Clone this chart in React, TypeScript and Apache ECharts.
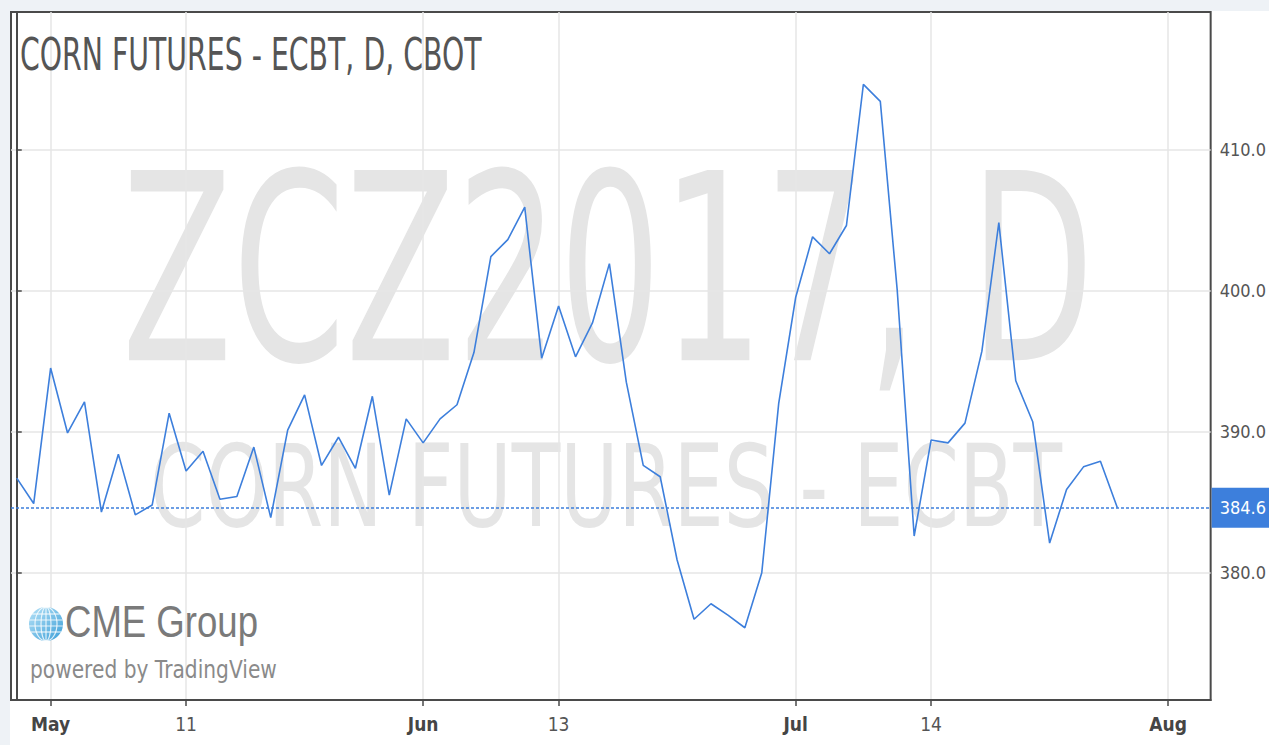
import React, { useEffect, useRef } from "react";
import * as echarts from "echarts";

// Trading days shown (Apr 27 – Jul 31, 2017)
const dates = [
  "2017-04-27", "2017-04-28",
  "2017-05-01", "2017-05-02", "2017-05-03", "2017-05-04", "2017-05-05",
  "2017-05-08", "2017-05-09", "2017-05-10", "2017-05-11", "2017-05-12",
  "2017-05-15", "2017-05-16", "2017-05-17", "2017-05-18", "2017-05-19",
  "2017-05-22", "2017-05-23", "2017-05-24", "2017-05-25", "2017-05-26",
  "2017-05-30", "2017-05-31",
  "2017-06-01", "2017-06-02",
  "2017-06-05", "2017-06-06", "2017-06-07", "2017-06-08", "2017-06-09",
  "2017-06-12", "2017-06-13", "2017-06-14", "2017-06-15", "2017-06-16",
  "2017-06-19", "2017-06-20", "2017-06-21", "2017-06-22", "2017-06-23",
  "2017-06-26", "2017-06-27", "2017-06-28", "2017-06-29", "2017-06-30",
  "2017-07-03", "2017-07-05", "2017-07-06", "2017-07-07",
  "2017-07-10", "2017-07-11", "2017-07-12", "2017-07-13", "2017-07-14",
  "2017-07-17", "2017-07-18", "2017-07-19", "2017-07-20", "2017-07-21",
  "2017-07-24", "2017-07-25", "2017-07-26", "2017-07-27", "2017-07-28",
  "2017-07-31",
];

// Daily closes (cents/bushel)
const closes = [
  386.7, 384.9,
  394.5, 389.9, 392.1, 384.3, 388.4,
  384.1, 384.8, 391.3, 387.2, 388.6,
  385.2, 385.4, 388.9, 383.9, 390.1,
  392.6, 387.6, 389.6, 387.4, 392.5,
  385.5, 390.9,
  389.2, 390.9,
  391.9, 395.6, 402.4, 403.6, 405.9,
  395.2, 398.9, 395.3, 397.7, 401.9,
  393.5, 387.6, 386.8, 380.9, 376.7,
  377.8, 377.0, 376.1, 380.0, 392.0,
  399.5, 403.8, 402.6, 404.6,
  414.6, 413.4, 400.0, 382.6, 389.4,
  389.2, 390.6, 395.7, 404.8, 393.6,
  390.7, 382.1, 385.9, 387.5, 387.9,
  384.6,
];

// Time-axis ticks (bar slots) and their labels
const xTickBars = [2, 10, 24, 32, 46, 54, 68];
const xTickLabels = ["May", "11", "Jun", "13", "Jul", "14", "Aug"];
const monthLabels = ["May", "Jun", "Jul", "Aug"];
const yTicks = [380, 390, 400, 410];

const titleText = "CORN FUTURES - ECBT, D, CBOT";
const watermarkSymbol = "ZCZ2017, D";
const watermarkName = "CORN FUTURES - ECBT";
const logoText = "CME Group";
const poweredText = "powered by TradingView";

const lastPrice = closes[closes.length - 1];

const FONT = "'DejaVu Sans Condensed', 'DejaVu Sans', sans-serif";
const WFONT = "'DejaVu Sans', sans-serif";

function measure(text: string, size: number, family: string, weight = "normal") {
  const ctx = document.createElement("canvas").getContext("2d")!;
  ctx.font = `${weight} ${size}px ${family}`;
  return ctx.measureText(text).width;
}

export default function App() {
  const ref = useRef<HTMLDivElement>(null);

  useEffect(() => {
    if (!ref.current) return;
    const chart = echarts.init(ref.current, undefined, { renderer: "svg" });

    const fitScale = (text: string, size: number, family: string, target: number, weight = "normal") =>
      target / measure(text, size, family, weight);

    const globeLines: any[] = [];
    const gx = 46, gy = 624, gr = 17;
    [-10, -4, 2, 8].forEach((dy) => {
      const hw = Math.sqrt(gr * gr - dy * dy);
      globeLines.push({
        type: "line",
        shape: { x1: gx - hw, y1: gy + dy, x2: gx + hw, y2: gy + dy },
        style: { stroke: "#ffffff", lineWidth: 1.2, opacity: 0.8 },
        z: 3,
      });
    });
    [5, 11].forEach((rx) => {
      globeLines.push({
        type: "ellipse",
        shape: { cx: gx, cy: gy, rx, ry: gr },
        style: { stroke: "#ffffff", fill: "none", lineWidth: 1.2, opacity: 0.8 },
        z: 3,
      });
    });
    globeLines.push({
      type: "line",
      shape: { x1: gx, y1: gy - gr, x2: gx, y2: gy + gr },
      style: { stroke: "#ffffff", lineWidth: 1.2, opacity: 0.8 },
      z: 3,
    });

    const option: any = {
      animation: false,
      backgroundColor: "#ffffff",
      grid: {
        left: 11,
        right: 57,
        top: 12,
        bottom: 45,
        show: true,
        borderColor: "#4a4a4a",
        borderWidth: 2,
        backgroundColor: "transparent",
      },
      graphic: [
        // outer frame strips
        { type: "rect", shape: { x: 0, y: 0, width: 1269, height: 11 }, style: { fill: "#eef2f6" }, z: 0 },
        { type: "rect", shape: { x: 0, y: 0, width: 10, height: 745 }, style: { fill: "#eef2f6" }, z: 0 },
        // watermark
        {
          type: "text",
          x: 608,
          y: 270,
          scaleX: fitScale(watermarkSymbol, 261, WFONT, 973),
          z: -1,
          style: {
            text: watermarkSymbol,
            fontSize: 261,
            fontFamily: WFONT,
            fill: "#e5e5e5",
            align: "center",
            verticalAlign: "middle",
            textAlign: "center",
            textVerticalAlign: "middle",
          },
        },
        {
          type: "text",
          x: 606,
          y: 487,
          scaleX: fitScale(watermarkName, 114, WFONT, 912),
          z: -1,
          style: {
            text: watermarkName,
            fontSize: 114,
            fontFamily: WFONT,
            fill: "#e5e5e5",
            align: "center",
            verticalAlign: "middle",
            textAlign: "center",
            textVerticalAlign: "middle",
          },
        },
        // title
        {
          type: "text",
          x: 20,
          y: 54,
          scaleX: fitScale(titleText, 45, WFONT, 462),
          z: 5,
          style: {
            text: titleText,
            fontSize: 45,
            fontFamily: WFONT,
            fill: "#555555",
            align: "left",
            verticalAlign: "middle",
            textAlign: "left",
            textVerticalAlign: "middle",
          },
        },
        // CME logo
        {
          type: "circle",
          shape: { cx: gx, cy: gy, r: gr },
          z: 2,
          style: {
            fill: new echarts.graphic.LinearGradient(0, 0, 1, 1, [
              { offset: 0, color: "#b6e2f7" },
              { offset: 1, color: "#3c9fd8" },
            ]),
          },
        },
        ...globeLines,
        {
          type: "text",
          x: 65,
          y: 622,
          scaleX: fitScale(logoText, 44, "'Liberation Sans', sans-serif", 193),
          z: 3,
          style: {
            text: logoText,
            fontSize: 44,
            fontFamily: "'Liberation Sans', sans-serif",
            fill: "#7a7a7a",
            align: "left",
            verticalAlign: "middle",
            textAlign: "left",
            textVerticalAlign: "middle",
          },
        },
        {
          type: "text",
          x: 30,
          y: 669,
          scaleX: fitScale(poweredText, 25, WFONT, 247),
          z: 3,
          style: {
            text: poweredText,
            fontSize: 25,
            fontFamily: WFONT,
            fill: "#8a8a8a",
            align: "left",
            verticalAlign: "middle",
            textAlign: "left",
            textVerticalAlign: "middle",
          },
        },
      ],
      xAxis: {
        type: "value",
        min: -0.34,
        max: 70.51,
        axisLine: { show: true, lineStyle: { color: "#4a4a4a", width: 2 } },
        axisTick: {
          show: true,
          customValues: xTickBars,
          length: 6,
          lineStyle: { color: "#4a4a4a", width: 1.5 },
        },
        axisLabel: {
          customValues: xTickBars,
          margin: 14,
          formatter: (v: number) => {
            const k = xTickBars.indexOf(Math.round(v));
            const t = k >= 0 ? xTickLabels[k] : "";
            return monthLabels.includes(t) ? `{b|${t}}` : `{n|${t}}`;
          },
          rich: {
            b: { fontFamily: FONT, fontSize: 19, fontWeight: "bold", color: "#454545" },
            n: { fontFamily: FONT, fontSize: 19, color: "#555555" },
          },
        },
        splitLine: { show: true, lineStyle: { color: "#e6e6e6", width: 1.5 } },
      },
      yAxis: {
        type: "value",
        position: "right",
        min: 370.98,
        max: 419.73,
        axisLine: { show: true, lineStyle: { color: "#4a4a4a", width: 2 } },
        axisTick: {
          show: true,
          customValues: yTicks,
          length: 5,
          lineStyle: { color: "#4a4a4a", width: 1.5 },
        },
        axisLabel: {
          customValues: yTicks,
          margin: 9,
          formatter: (v: number) => v.toFixed(1),
          color: "#555555",
          fontSize: 18,
          fontFamily: FONT,
        },
        splitLine: { show: true, lineStyle: { color: "#e6e6e6", width: 1.5 } },
      },
      series: [
        {
          type: "line",
          data: closes.map((v, i) => [i, v]),
          showSymbol: false,
          lineStyle: { color: "#3d7fdc", width: 1.6 },
          z: 4,
          markLine: {
            silent: true,
            symbol: ["none", "none"],
            data: [{ yAxis: lastPrice }],
            lineStyle: { color: "#3d7fdc", type: [3, 2], width: 1.6 },
            label: {
              show: true,
              position: "end",
              distance: 1,
              formatter: lastPrice.toFixed(1),
              backgroundColor: "#3d7fdc",
              color: "#ffffff",
              fontFamily: FONT,
              fontSize: 18,
              lineHeight: 20,
              padding: [10, 12, 10, 8],
            },
          },
        },
      ],
    };

    chart.setOption(option);
    return () => chart.dispose();
  }, []);

  return (
    <div
      ref={ref}
      style={{ position: "fixed", left: 0, top: 0, width: 1269, height: 745 }}
    />
  );
}
